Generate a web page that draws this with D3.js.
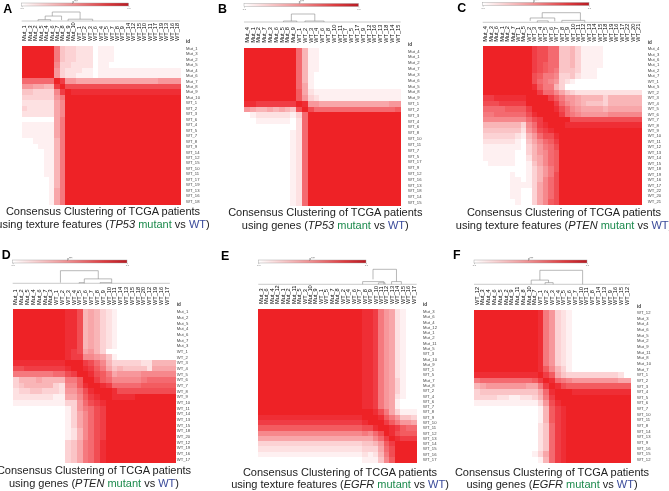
<!DOCTYPE html>
<html><head><meta charset="utf-8">
<script src="https://cdnjs.cloudflare.com/ajax/libs/d3/7.8.5/d3.min.js"></script>
<style>html,body{margin:0;padding:0;background:#fff}svg{display:block}text{font-family:"Liberation Sans",Arial,sans-serif}</style>
</head><body><svg id="c" width="669" height="491"></svg>
<script>
// Sample ids per panel, in clustered order
const idsA=["Mut_1","Mut_3","Mut_2","Mut_5","Mut_4","Mut_6","Mut_7","Mut_8","Mut_9","Mut_10","WT_1","WT_2","WT_3","WT_6","WT_4","WT_5","WT_7","WT_8","WT_9","WT_14","WT_12","WT_15","WT_10","WT_11","WT_17","WT_19","WT_13","WT_16","WT_18"];
const idsB=["Mut_4","Mut_1","Mut_2","Mut_7","Mut_3","Mut_6","Mut_5","Mut_8","Mut_9","WT_1","WT_2","WT_3","WT_4","WT_6","WT_8","WT_10","WT_11","WT_7","WT_5","WT_17","WT_9","WT_12","WT_16","WT_13","WT_18","WT_14","WT_15"];
const idsC=["Mut_4","Mut_3","Mut_6","Mut_1","Mut_2","Mut_7","WT_1","Mut_5","WT_2","WT_3","WT_4","WT_5","WT_6","WT_7","WT_8","WT_9","WT_10","WT_11","WT_12","WT_13","WT_14","WT_15","WT_18","WT_19","WT_16","WT_17","WT_22","WT_20","WT_21"];
const idsD=["Mut_1","Mut_2","Mut_5","Mut_4","Mut_6","Mut_7","Mut_3","WT_1","WT_2","WT_3","WT_4","WT_5","WT_6","WT_7","WT_8","WT_9","WT_10","WT_11","WT_14","WT_13","WT_15","WT_18","WT_20","WT_12","WT_19","WT_16","WT_17"];
const idsE=["Mut_3","Mut_6","Mut_4","Mut_12","Mut_1","Mut_2","Mut_11","Mut_5","WT_3","Mut_10","Mut_9","WT_1","WT_5","Mut_7","Mut_8","WT_2","WT_4","WT_6","WT_7","WT_8","WT_9","WT_10","WT_11","WT_12","WT_13","WT_14","WT_15","WT_16","WT_17"];
const idsF=["WT_12","Mut_3","Mut_4","Mut_6","Mut_5","Mut_2","Mut_9","Mut_11","Mut_8","Mut_10","Mut_7","WT_1","WT_2","WT_3","WT_4","WT_5","WT_6","WT_7","WT_10","WT_11","WT_8","WT_14","WT_13","WT_9","WT_16","WT_15","WT_12"];

// Consensus values per row, hex digit 0..f = 0..1 of 15. A row's last digit holds to the right edge.
const matA=["ffffff9433222011100","ffffff9433222011100","ffffff9433222011100","ffffff8332222011000","ffffff73222110111111","ffffff73221110111111",
"aaaaaafd776666666666666667","776655dfcc","4433338dfee","33333379f","22222268f","32222268f","22222268f",
"00000069f","11111169f","11111169f","11111169f","00111159f","00011159f","00001159f","00001159f","00001159f","00001159f","00001159f","00000159f","00000159f","00000169f","00000169f","00000169f"];
const matB=["fffffffffa5110","fffffffffa5110","fffffffffa5110","fffffffffa5110","fffffffffa5100","fffffffffa510","fffffffffa6100","fffffffffb6211","fffffffffb73211",
"eedddddddfe7766666666666677","765565654cfcaaaaaaaaaaaaaab","0122222213af","0011111102af","0000000002af","0000000012af","0000000012af","0000000012af","0000000012af","0000000012af","0000000012af","0000000012af","0000000012af","0000000012af","0000000012af","0000000012af","0000000012af","0000000012af"];
const matC=["fffffffffdccaa445311110","fffffffffdccaa445311110","fffffffffdccaa445311110","fffffffffdcbaa445311110","fffffffffdcba9444311100","fffffffffcb998334211100",
"fffffffffca98732100","fffffffffeb99530","ffffffffffdaa8643222222222","ddeeeeeeffffdb9776555535555","cccdddddfffffda876544435555","aaaabbbbdffffeca87666656","99aaaaaaceffffda98777778","88888888acdfffffcccc",
"555555538adefffeee","444444427 9cdeffff".replace(" ",""),"3333332157accef","222222104 68abdf".replace(" ",""),"111111103579acf","111111003578abf","111111002568abf","011111001468abf","0000000013579bf","0000010013579cf","000001101358acf","000001111368acf","000001100368acf","000001100368acf","000000100368bcf"];
const matD=["fffffffffeec5653210","fffffffffeec5653210","fffffffffeec5653210","fffffffffeec5653210","fffffffffeec5653210","fffffffffeec5653210","fffffffffeec5653210",
"fffffffffedc675300","fffffffffedd8876410","eeeeeeeeefffdca85333332255555","ccdddddddeffedb964544442666664","9999999aacdffecb96777788888888","35556555599bffdba888889aaaaaa","34555553288beffedaaaaabbbbbb","23344333277" +"9cefffecccccc","222222211668bdeffeeeef","111111111337acdeff","0000000001379acdf","0000000001368acdf","0000000001368acdf","0000000001368acdf","0000000001258acdf","0000000001258acdf","0000000003469acef","0000000003469acef","0000000003469acef","0000000003469acef"];
const matE=["fffffffffffffffffffeed976210","fffffffffffffffffffeed976210","fffffffffffffffffffeed976210","fffffffffffffffffffeed976210","fffffffffffffffffffeed976210","fffffffffffffffffffeed976210","fffffffffffffffffffeed976210","fffffffffffffffffffeed976210","fffffffffffffffffffeed976210","fffffffffffffffffffeed976210","fffffffffffffffffffeed976210","fffffffffffffffffffeed976210","fffffffffffffffffffeed976210","fffffffffffffffffffeed976310","fffffffffffffffffffeed976310","fffffffffffffffffffeed976310","fffffffffffffffffffeed976210","fffffffffffffffffffeed976100","fffffffffffffffffffeed976100",
"fffffffffffffffffffffec963111","eeeeeeeeeeeeeeeeeeefffeb97443","dddddddddddddddddddefffdb9776","bbbbbbbbbbbbbbbbbbbcceffedbaa","888888888888888888898acfecbb","6666666666666666666668adfedd","33333333333333333334457bdf","22222222222222222223336acf","11111111111111111112125" +"9cf","00000000000000000001114" +"8bf"];
const matF=["fffffffffffe973210","fffffffffffe973210","fffffffffffe973210","fffffffffffe973210","fffffffffffe973210","fffffffffffe973210","fffffffffffe973210","fffffffffffe973210","fffffffffffe973210","fffffffffffe973210","fffffffffffeb85310",
"eeeeeeeeeeefdb6433333333320","9aaaaaaaaabdfea98777777776","567777777669dfecb","344444444446aefffee","3333221122359df","1111111111137cef","0000000000015bdef","0000000000015bdef","0000000000015bdef","0000000000024adef","0000000000024adef","0000000000024adef","0000000000024adef","0000000000024adef","0000000000136adef","0000000000015adef"];

// Dendrogram merges: [left column, right column, merge height, left leg end, right leg end]
const dendA=[[5.6,10.7,1,.55,.2],[4.3,7.3,.55,.15,.1],[3,5.3,.15,0,0],[8.5,13,.2,0,0]];
const dendB=[[8.16,12.2,1,.12,.12],[6.8,9.1,.12,0,0],[10.5,13.8,.12,0,0]];
const dendC=[[10.9,17.9,1,.45,.2],[8.7,13.2,.45,.15,.1],[14.5,18.7,.2,0,0],[10,12,.15,0,0]];
const dendD=[[8.2,14.7,1,.05,.35],[12.3,17,.35,.05,.05],[11.4,12.3,.05,0,0],[15,17,.05,0,0]];
const dendE=[[21,25.3,1,.33,.18],[19.1,23,.18,0,0],[24.4,26.2,.18,0,0],[22,23.2,.1,0,0]];
const dendF=[[11.4,18.8,1,.3,0],[9.9,12.9,.3,0,.12],[12.3,13.7,.12,0,0]];

// Tick labels and captions
const barTicks=[0,1];
const barTitle="p***";
const captionLine1="Consensus Clustering of TCGA patients";
const captions=["using texture features","using genes","using texture features","using genes","using texture features","using genes"];
const genes=["TP53","TP53","PTEN","PTEN","EGFR","EGFR"];
const letters=["A","B","C","D","E","F"];

// Layout (pixel geometry per panel)
const layout=[
 {ids:idsA,mat:matA,dend:dendA,x:21.7,w:158.3,y:45.7,h:158.3,lx:186,colB:41,idY:43,bar:[21.7,128.5,3],dt:12,db:21,cx:103,b1:215,b2:228.3,lt:[3.3,12.7]},
 {ids:idsB,mat:matB,dend:dendB,x:244,w:156.7,y:48.3,h:157.4,lx:408,colB:42.7,idY:45.5,bar:[244,358.5,3.5],dt:14,db:22,cx:325.3,b1:215.6,b2:229,lt:[218,12.7]},
 {ids:idsC,mat:matC,dend:dendC,x:482.7,w:158.3,y:46,h:158.3,lx:647.7,colB:41.7,idY:44,bar:[482.7,589,2.5],dt:12.7,db:22.3,cx:564,b1:216,b2:229.3,lt:[457.3,12.3]},
 {ids:idsD,extra:1,mat:matD,dend:dendD,x:12.7,w:163,y:309,h:153.3,lx:176.7,colB:305,idY:306,bar:[12.7,127,260],dt:270.7,db:283.3,cx:94,b1:473.7,b2:487,lt:[1.7,259.3]},
 {ids:idsE,mat:matE,dend:dendE,x:258.3,w:158.4,y:309,h:153.3,lx:423,colB:304,idY:306,bar:[258.3,366,260],dt:269.3,db:284.3,cx:340,b1:475.7,b2:488.3,lt:[221,260]},
 {ids:idsF,mat:matF,dend:dendF,x:474,w:156,y:310,h:152.3,lx:637,colB:305,idY:308,bar:[474,587,260],dt:270.3,db:284.3,cx:552,b1:475.7,b2:488.3,lt:[453,259.3]}
];
const svg=d3.select("#c");
const color=d3.scaleLinear().domain([0,15]).range(["#ffffff","#ee2028"]);
const defs=svg.append("defs");
const g=defs.append("linearGradient").attr("id","bg");
[[0,"#ffffff"],[.5,"#ee8a8c"],[.8,"#dc3a3e"],[1,"#b81c24"]].forEach(s=>g.append("stop").attr("offset",s[0]).attr("stop-color",s[1]));
defs.append("filter").attr("id","soft").attr("x",0).attr("y",0).attr("width",1).attr("height",1).attr("filterUnits","userSpaceOnUse")
  .attr("x",0).attr("y",0).attr("width",669).attr("height",491)
  .append("feGaussianBlur").attr("stdDeviation",.35);
const root=svg.append("g").attr("filter","url(#soft)");

layout.forEach((p,k)=>{
  const nr=p.ids.length, nc=nr+(p.extra||0);
  const xs=d3.scaleBand().domain(d3.range(nc)).range([p.x,p.x+p.w]);
  const ys=d3.scaleBand().domain(d3.range(nr)).range([p.y,p.y+p.h]);
  const xu=d3.scaleLinear().domain([0,nc]).range([p.x,p.x+p.w]);
  const hs=d3.scaleLinear().domain([0,1]).range([p.db,p.dt]);
  const P=root.append("g");
  // cells
  const cells=[];
  p.mat.forEach((s,i)=>{for(let j=0;j<nc;j++){const c=j<s.length?s[j]:s[s.length-1];cells.push({i,j,v:parseInt(c,16)});}});
  P.append("g").attr("shape-rendering","crispEdges").selectAll("rect").data(cells).join("rect")
   .attr("x",d=>xs(d.j)).attr("y",d=>ys(d.i)).attr("width",xs.bandwidth()+.5).attr("height",ys.bandwidth()+.5)
   .attr("fill",d=>color(d.v));
  // row labels
  const ay=P.append("g").attr("transform",`translate(${p.lx},0)`).call(d3.axisRight(ys).tickSize(0).tickPadding(0).tickFormat(i=>p.ids[i]));
  ay.select(".domain").remove();
  ay.selectAll("text").attr("font-size",4.2).attr("font-family","Liberation Sans").attr("fill","#444");
  P.append("text").attr("x",p.lx).attr("y",p.idY).attr("font-size",4.6).attr("font-weight","bold").attr("fill","#333").text("id");
  // column labels
  const xl=d3.scaleBand().domain(d3.range(nr)).range([p.x,p.x+xs.step()*nr]);
  const ax=P.append("g").attr("transform",`translate(0,${p.colB})`).call(d3.axisBottom(xl).tickSize(0).tickPadding(0).tickFormat(i=>p.ids[i]));
  ax.select(".domain").remove();
  ax.selectAll("text").attr("font-size",5.6).attr("font-family","Liberation Sans").attr("fill","#000")
    .attr("text-anchor","start").attr("dy",0).attr("y",0).attr("x",0).attr("transform","rotate(-90) translate(0,1.8)");
  // dendrogram
  const dg=P.append("g").attr("fill","none").attr("stroke","#8a8a8a").attr("stroke-width",.6);
  dg.append("line").attr("x1",xu(0)).attr("x2",xu(nr)).attr("y1",hs(0)).attr("y2",hs(0)).attr("stroke-width",.45);
  dg.selectAll("path").data(p.dend).join("path").attr("d",d=>{
    const q=d3.path();q.moveTo(xu(d[0]),hs(d[3]));q.lineTo(xu(d[0]),hs(d[2]));q.lineTo(xu(d[1]),hs(d[2]));q.lineTo(xu(d[1]),hs(d[4]));return q.toString();});
  // colour bar
  const [b0,b1,by]=p.bar;
  const bs=d3.scaleLinear().domain(barTicks).range([b0,b1]);
  P.append("rect").attr("x",b0).attr("y",by).attr("width",b1-b0).attr("height",3).attr("fill","url(#bg)").attr("stroke","#999").attr("stroke-width",.4);
  const ba=P.append("g").attr("transform",`translate(0,${by+3})`).call(d3.axisBottom(bs).tickValues(barTicks).tickSize(1.2).tickPadding(.3));
  ba.select(".domain").remove();
  ba.selectAll("line").attr("stroke","#888").attr("stroke-width",.4);
  ba.selectAll("text").attr("font-size",2.5).attr("fill","#666").attr("font-family","Liberation Sans");
  P.append("text").attr("x",(b0+b1)/2).attr("y",by-.4).attr("text-anchor","middle").attr("font-size",3).attr("fill","#555").text(barTitle);
  // panel letter
  P.append("text").attr("x",p.lt[0]).attr("y",p.lt[1]).attr("font-size",12.4).attr("font-weight","bold").attr("fill","#000").text(letters[k]);
  // captions
  P.append("text").attr("x",p.cx).attr("y",p.b1).attr("text-anchor","middle").attr("font-size",11).attr("fill","#222").text(captionLine1);
  const t=P.append("text").attr("x",p.cx).attr("y",p.b2).attr("text-anchor","middle").attr("font-size",11).attr("fill","#222");
  t.append("tspan").text(captions[k]+" (");
  t.append("tspan").attr("font-style","italic").text(genes[k]);
  t.append("tspan").text(" ");
  t.append("tspan").attr("fill","#1c8a4c").text("mutant");
  t.append("tspan").text(" vs ");
  t.append("tspan").attr("fill","#3a4a9a").text("WT");
  t.append("tspan").text(")");
});
</script></body></html>
